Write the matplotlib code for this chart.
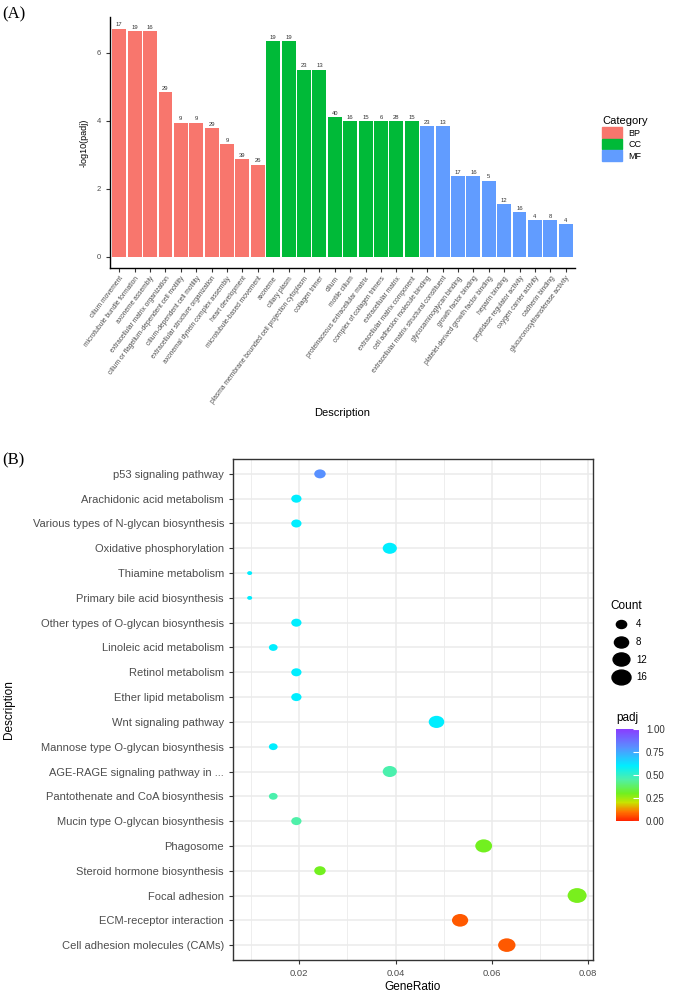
import numpy as np
import matplotlib
matplotlib.use('Agg')
import matplotlib.pyplot as plt
from matplotlib.colors import LinearSegmentedColormap, Normalize
from matplotlib.patches import Patch
from matplotlib.lines import Line2D
from matplotlib.path import Path

plt.rcParams['font.family'] = ['Liberation Sans', 'DejaVu Sans']

# ---------------- data: panel A (GO enrichment) ----------------
go_terms = [
    'cilium movement', 'microtubule bundle formation', 'axoneme assembly',
    'extracellular matrix organization', 'cilium or flagellum-dependent cell motility',
    'cilium-dependent cell motility', 'extracellular structure organization',
    'axonemal dynein complex assembly', 'heart development', 'microtubule-based movement',
    'axoneme', 'ciliary plasm', 'plasma membrane bounded cell projection cytoplasm',
    'collagen trimer', 'cilium', 'motile cilium', 'proteinaceous extracellular matrix',
    'complex of collagen trimers', 'extracellular matrix', 'extracellular matrix component',
    'cell adhesion molecule binding', 'extracellular matrix structural constituent',
    'glycosaminoglycan binding', 'growth factor binding',
    'platelet-derived growth factor binding', 'heparin binding',
    'peptidase regulator activity', 'oxygen carrier activity', 'cadherin binding',
    'glucuronosyltransferase activity',
]
go_category = ['BP'] * 10 + ['CC'] * 10 + ['MF'] * 10
go_neglog_padj = [6.71, 6.63, 6.63, 4.83, 3.94, 3.94, 3.78, 3.30, 2.87, 2.70,
                  6.33, 6.33, 5.50, 5.50, 4.11, 3.98, 3.98, 3.98, 3.99, 3.99,
                  3.84, 3.84, 2.37, 2.37, 2.23, 1.55, 1.30, 1.08, 1.08, 0.95]
go_count = [17, 19, 16, 29, 9, 9, 29, 9, 39, 26,
            19, 19, 23, 13, 40, 16, 15, 6, 28, 15,
            23, 13, 17, 16, 5, 12, 16, 4, 8, 4]

# ---------------- data: panel B (KEGG enrichment) ----------------
kegg_terms = [
    'p53 signaling pathway', 'Arachidonic acid metabolism',
    'Various types of N-glycan biosynthesis', 'Oxidative phosphorylation',
    'Thiamine metabolism', 'Primary bile acid biosynthesis',
    'Other types of O-glycan biosynthesis', 'Linoleic acid metabolism',
    'Retinol metabolism', 'Ether lipid metabolism', 'Wnt signaling pathway',
    'Mannose type O-glycan biosynthesis', 'AGE-RAGE signaling pathway in ...',
    'Pantothenate and CoA biosynthesis', 'Mucin type O-glycan biosynthesis',
    'Phagosome', 'Steroid hormone biosynthesis', 'Focal adhesion',
    'ECM-receptor interaction', 'Cell adhesion molecules (CAMs)',
]
kegg_gene_ratio = [0.0243, 0.0194, 0.0194, 0.0388, 0.0097, 0.0097, 0.0194, 0.0146,
                   0.0194, 0.0194, 0.0485, 0.0146, 0.0388, 0.0146, 0.0194,
                   0.0583, 0.0243, 0.0777, 0.0534, 0.0631]
kegg_count = [5, 4, 4, 8, 2, 2, 4, 3, 4, 4, 10, 3, 8, 3, 4, 12, 5, 16, 11, 13]
kegg_padj = [0.80, 0.60, 0.60, 0.60, 0.60, 0.60, 0.60, 0.60, 0.60, 0.60,
             0.60, 0.60, 0.46, 0.46, 0.45, 0.30, 0.30, 0.29, 0.07, 0.07]

count_legend = [4, 8, 12, 16]
padj_ticks = [0.0, 0.25, 0.5, 0.75, 1.0]

cat_colors = {'BP': '#F8766D', 'CC': '#00BA38', 'MF': '#619CFF'}
txt_gray = '#4D4D4D'

padj_cmap = LinearSegmentedColormap.from_list('padj', [
    (0.00, '#FF2200'), (0.10, '#FF7400'), (0.20, '#C8E400'), (0.30, '#70F020'),
    (0.45, '#50F0A8'), (0.60, '#00EEFF'), (0.80, '#5890FF'), (1.00, '#8A3CFF')])


def count_to_pt(c):
    # ggplot-like area scale: 2 -> 5 px, 16 -> 19 px wide
    return (5 + 14 * np.sqrt((np.asarray(c, dtype=float) - 2) / 14)) * 0.72


circle = Path.unit_circle()
ellipse = Path(circle.vertices * np.array([1.0, 0.78]), circle.codes)

fig = plt.figure(figsize=(6.73, 9.91), dpi=100)
W, H = 673, 991

# ================= panel A =================
axA = fig.add_axes([110 / W, 1 - 268 / H, 465 / W, 251 / H])
x = np.arange(len(go_terms))
axA.bar(x, go_neglog_padj, width=0.9, color=[cat_colors[c] for c in go_category])
for xi, h, n in zip(x, go_neglog_padj, go_count):
    axA.text(xi, h + 0.04, str(n), ha='center', va='bottom', fontsize=4.2, color='#333333')

axA.set_xlim(-0.6, len(go_terms) - 0.4)
axA.set_ylim(-0.336, 7.05)
axA.set_yticks([0, 2, 4, 6])
axA.set_xticks(x)
axA.set_xticklabels(go_terms, rotation=53, ha='right', rotation_mode='anchor',
                    fontsize=4.8, color=txt_gray)
axA.tick_params(axis='y', labelsize=5.5, labelcolor=txt_gray, length=3, color='#333333')
axA.tick_params(axis='x', length=3, color='#333333', pad=2)
for s in ['top', 'right']:
    axA.spines[s].set_visible(False)
for s in ['left', 'bottom']:
    axA.spines[s].set_linewidth(1.0)
axA.set_ylabel('-log10(padj)', fontsize=6.5, labelpad=6)
axA.set_xlabel('Description', fontsize=8)
axA.xaxis.set_label_coords(0.5, -(408 - 268) / 251)

handlesA = [Patch(color=cat_colors[k]) for k in ['BP', 'CC', 'MF']]
legA = fig.legend(handlesA, ['BP', 'CC', 'MF'], title='Category', loc='upper left',
                  bbox_to_anchor=(594 / W, 1 - 108 / H), frameon=False, fontsize=6.5,
                  title_fontsize=8, handlelength=2.2, handleheight=1.35,
                  labelspacing=0.15, handletextpad=0.7, alignment='left')

fig.text(2 / W, 1 - 14 / H, '(A)', fontsize=12, family='Liberation Serif', va='center')

# ================= panel B =================
axB = fig.add_axes([233 / W, 31 / H, 360 / W, 501 / H])
yB = np.arange(len(kegg_terms))
axB.scatter(kegg_gene_ratio, yB, s=count_to_pt(kegg_count) ** 2, marker=ellipse,
            c=kegg_padj, cmap=padj_cmap, vmin=0, vmax=1, linewidths=0, zorder=3)
axB.set_xlim(0.00624, 0.0810)
axB.set_ylim(len(kegg_terms) - 0.4, -0.6)
axB.set_yticks(yB)
axB.set_yticklabels(kegg_terms)
axB.set_xticks([0.02, 0.04, 0.06, 0.08])
axB.set_xticks([0.01, 0.03, 0.05, 0.07], minor=True)
axB.set_xticklabels(['0.02', '0.04', '0.06', '0.08'])
axB.grid(True, which='major', color='#EBEBEB', linewidth=1.1, zorder=0)
axB.grid(True, which='minor', axis='x', color='#EBEBEB', linewidth=0.6, zorder=0)
axB.set_axisbelow(True)
axB.tick_params(axis='both', which='major', labelsize=8, labelcolor=txt_gray,
                length=3, color='#333333')
axB.tick_params(axis='x', which='minor', length=0)
axB.tick_params(axis='x', labelsize=6.8)
for s in axB.spines.values():
    s.set_color('#333333')
    s.set_linewidth(1.0)
axB.set_xlabel('GeneRatio', fontsize=8.5, labelpad=2)
axB.set_ylabel('Description', fontsize=8.5)
axB.yaxis.set_label_coords(-(233 - 15) / 360, 0.5)

# size legend
handlesB = [Line2D([], [], ls='', marker=ellipse, color='black',
                   markersize=count_to_pt(c)) for c in count_legend]
fig.legend(handlesB, [str(c) for c in count_legend], title='Count', loc='upper left',
           bbox_to_anchor=(604 / W, 1 - 593 / H), frameon=False, fontsize=7,
           title_fontsize=8.5, labelspacing=0.78, handletextpad=0.6,
           alignment='left', borderpad=0.2)

# colour bar
cax = fig.add_axes([616 / W, 1 - 821 / H, 23 / W, 92 / H])
sm = plt.cm.ScalarMappable(norm=Normalize(0, 1), cmap=padj_cmap)
cb = fig.colorbar(sm, cax=cax, ticks=padj_ticks)
cb.outline.set_visible(False)
cb.ax.set_yticklabels(['0.00', '0.25', '0.50', '0.75', '1.00'])
cb.ax.tick_params(length=4, color='white', direction='in', labelsize=7,
                  labelcolor='#333333', pad=5)
fig.text(616 / W, 1 - 718 / H, 'padj', fontsize=8.5, va='center')

fig.text(2 / W, 1 - 460 / H, '(B)', fontsize=12, family='Liberation Serif', va='center')

fig.savefig('out.png', dpi=100)
